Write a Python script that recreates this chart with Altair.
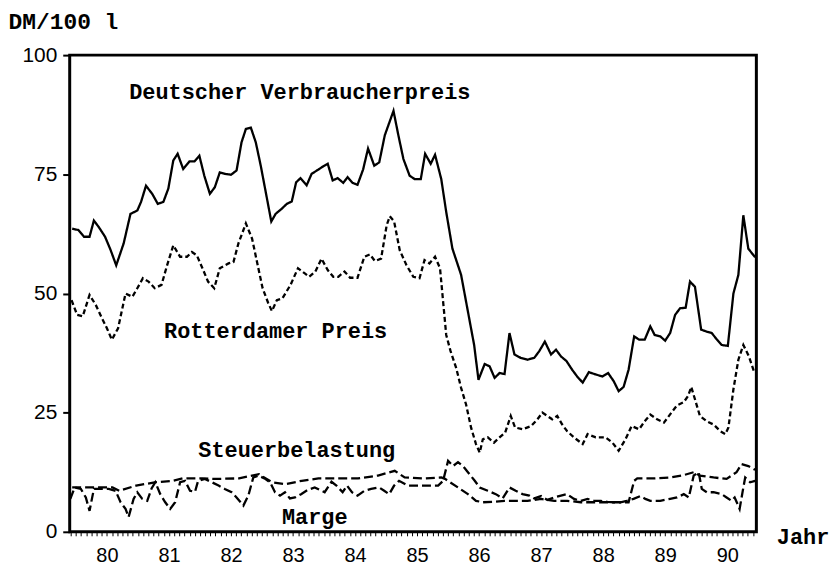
import altair as alt
import pandas as pd

# Deutscher Verbraucherpreis (DM/100 l)
dvp_t = [1979.94,1980.04,1980.13,1980.22,1980.29,1980.37,1980.47,1980.56,1980.65,1980.77,
         1980.88,1980.99,1981.05,1981.13,1981.23,1981.32,1981.41,1981.49,1981.57,1981.64,
         1981.73,1981.83,1981.91,1981.99,1982.07,1982.16,1982.24,1982.32,1982.40,1982.50,
         1982.59,1982.67,1982.74,1982.82,1982.90,1982.98,1983.06,1983.15,1983.22,1983.32,
         1983.40,1983.48,1983.55,1983.62,1983.72,1983.80,1983.91,1983.99,1984.06,1984.14,
         1984.22,1984.31,1984.38,1984.46,1984.54,1984.63,1984.71,1984.81,1984.89,1984.98,
         1985.12,1985.20,1985.28,1985.38,1985.46,1985.56,1985.63,1985.72,1985.79,1985.89,
         1985.97,1986.07,1986.21,1986.32,1986.42,1986.49,1986.59,1986.67,1986.75,1986.83,
         1986.91,1986.99,1987.07,1987.17,1987.28,1987.39,1987.47,1987.56,1987.66,1987.74,
         1987.82,1987.91,1988.00,1988.08,1988.17,1988.27,1988.38,1988.49,1988.58,1988.67,
         1988.75,1988.83,1988.91,1989.00,1989.08,1989.17,1989.26,1989.33,1989.42,1989.50,
         1989.58,1989.66,1989.74,1989.83,1989.90,1989.98,1990.08,1990.17,1990.25,1990.33,
         1990.41,1990.51,1990.60,1990.68,1990.76,1990.84,1990.95]
dvp_v = [63.6,63.3,61.9,61.9,65.3,63.9,61.9,59.1,55.9,60.5,
         66.7,67.4,69.2,72.6,70.9,68.8,69.2,72.0,77.9,79.3,
         76.1,77.7,77.7,78.9,74.7,70.9,72.3,75.4,75.1,74.9,
         75.8,81.7,84.5,84.8,81.7,76.8,71.3,65.1,66.7,67.8,
         68.8,69.3,73.3,74.2,72.7,75.1,76.0,76.7,77.2,73.7,
         74.2,73.2,74.4,73.2,72.8,76.0,80.4,76.8,77.5,83.2,
         88.3,83.1,78.2,74.7,74.0,74.0,79.3,77.2,79.1,74.0,
         67.1,59.4,53.9,46.2,39.2,31.9,35.2,34.7,32.3,33.3,
         33.1,41.7,37.2,36.5,36.1,36.5,37.9,39.9,37.2,38.2,
         36.8,35.8,34.0,32.6,31.3,33.5,33.0,32.6,33.3,31.6,
         29.5,30.4,34.0,41.0,40.3,40.3,43.1,41.3,41.0,40.1,
         41.7,45.5,46.9,47.0,52.5,51.4,42.4,42.0,41.7,40.4,
         39.2,39.0,50.0,53.9,66.4,59.4,57.6]

# Rotterdamer Preis
rot_t = [1979.93,1980.02,1980.11,1980.22,1980.32,1980.42,1980.50,1980.58,1980.68,1980.80,
         1980.91,1980.99,1981.08,1981.17,1981.27,1981.38,1981.47,1981.57,1981.68,1981.79,
         1981.87,1981.95,1982.04,1982.13,1982.23,1982.32,1982.46,1982.54,1982.62,1982.74,
         1982.84,1982.92,1983.01,1983.10,1983.16,1983.24,1983.33,1983.46,1983.58,1983.69,
         1983.76,1983.86,1983.96,1984.06,1984.15,1984.23,1984.33,1984.42,1984.54,1984.65,
         1984.74,1984.82,1984.92,1985.01,1985.06,1985.13,1985.22,1985.33,1985.44,1985.54,
         1985.62,1985.70,1985.79,1985.87,1985.92,1985.97,1986.04,1986.13,1986.21,1986.29,
         1986.37,1986.45,1986.51,1986.56,1986.64,1986.74,1986.83,1986.92,1987.01,1987.08,
         1987.20,1987.34,1987.44,1987.52,1987.60,1987.68,1987.76,1987.84,1987.92,1988.03,
         1988.17,1988.25,1988.38,1988.54,1988.65,1988.75,1988.86,1988.96,1989.08,1989.17,
         1989.26,1989.37,1989.48,1989.60,1989.69,1989.80,1989.87,1989.92,1989.98,1990.06,
         1990.17,1990.28,1990.39,1990.47,1990.52,1990.60,1990.68,1990.76,1990.85,1990.94]
rot_v = [48.6,45.5,45.2,49.7,47.6,44.8,42.7,40.3,42.7,50.0,
         49.3,51.1,53.2,52.5,51.1,51.8,55.9,60.1,57.7,57.7,
         58.7,58.0,55.3,52.5,51.1,55.3,56.3,56.6,60.5,64.7,
         61.5,56.6,51.1,48.0,46.3,48.6,49.0,51.8,55.3,54.2,
         53.5,54.6,57.3,54.9,53.5,53.5,54.6,53.3,53.3,57.7,
         58.2,56.8,57.3,64.3,66.2,65.1,59.1,55.9,53.5,53.2,
         57.0,56.3,57.7,55.3,48.3,41.3,37.9,34.4,30.2,26.7,
         21.9,18.4,16.6,19.4,19.8,18.7,19.8,20.8,24.3,21.9,
         21.5,22.2,23.6,25.0,24.3,23.6,24.3,22.5,21.1,19.8,
         18.4,20.5,19.8,19.8,18.7,17.0,19.4,22.2,21.5,23.2,
         24.6,23.6,22.9,25.0,26.5,27.2,28.5,30.4,27.8,24.3,
         23.2,22.5,21.1,20.5,21.9,29.9,36.1,39.2,36.8,33.3]

# Steuerbelastung
st_t = [1979.94,1980.59,1980.70,1980.97,1981.29,1981.56,1981.72,1982.04,1982.25,1982.63,
        1982.88,1982.95,1983.16,1983.38,1983.64,1983.91,1984.29,1984.55,1984.87,1985.14,
        1985.30,1985.62,1985.89,1985.95,1986.16,1986.32,1986.45,1986.56,1986.75,1986.91,
        1987.28,1987.50,1987.71,1987.92,1988.14,1988.57,1988.91,1989.00,1989.05,1989.32,
        1989.58,1989.80,1989.96,1990.06,1990.28,1990.49,1990.65,1990.73,1990.84,1990.95]
st_v = [9.3,9.3,8.6,9.7,10.4,10.7,11.2,11.2,11.1,11.2,
        11.9,12.1,10.4,10.0,10.7,11.2,11.2,11.2,11.8,12.8,
        11.4,11.2,11.4,11.1,9.3,7.9,6.5,6.2,6.3,6.5,
        6.5,6.9,6.5,6.5,6.2,6.2,6.2,10.7,11.2,11.2,
        11.4,11.9,12.5,11.8,11.4,11.1,12.5,14.2,13.8,13.0]

# Marge
mg_t = [1979.91,1979.98,1980.08,1980.16,1980.22,1980.29,1980.53,1980.64,1980.72,1980.80,
        1980.85,1980.93,1980.99,1981.07,1981.15,1981.22,1981.28,1981.36,1981.44,1981.52,
        1981.60,1981.68,1981.76,1981.84,1981.92,1981.97,1982.08,1982.19,1982.30,1982.40,
        1982.51,1982.59,1982.70,1982.78,1982.86,1982.94,1983.04,1983.13,1983.21,1983.29,
        1983.37,1983.45,1983.53,1983.63,1983.74,1983.85,1983.96,1984.01,1984.12,1984.20,
        1984.30,1984.37,1984.45,1984.54,1984.65,1984.76,1984.89,1984.97,1985.05,1985.13,
        1985.21,1985.35,1985.61,1985.84,1985.92,1986.00,1986.08,1986.16,1986.24,1986.32,
        1986.43,1986.51,1986.64,1986.77,1986.88,1986.99,1987.09,1987.20,1987.31,1987.39,
        1987.50,1987.60,1987.71,1987.82,1987.92,1988.03,1988.14,1988.25,1988.35,1988.46,
        1988.57,1988.67,1988.78,1988.88,1988.99,1989.10,1989.18,1989.26,1989.42,1989.58,
        1989.69,1989.80,1989.88,1989.96,1990.04,1990.09,1990.17,1990.28,1990.41,1990.49,
        1990.57,1990.62,1990.70,1990.76,1990.79,1990.87,1990.95]
mg_v = [6.9,9.3,9.0,7.2,4.4,9.0,9.0,8.6,6.2,4.8,
        3.1,6.9,8.3,6.9,6.5,9.1,10.4,7.9,6.2,4.8,
        6.2,10.4,10.7,8.6,8.4,10.7,11.1,10.4,9.7,9.0,
        8.3,7.2,5.5,7.6,11.4,11.8,11.2,10.4,8.3,7.6,
        8.3,7.0,7.2,7.9,8.8,9.3,8.6,8.3,10.5,9.7,
        8.3,9.7,8.3,7.6,8.6,9.0,9.3,8.6,7.9,9.7,
        10.7,9.7,9.7,9.7,10.7,14.9,13.8,14.6,13.8,12.5,
        10.7,9.3,8.6,7.9,7.0,9.3,8.6,7.9,7.6,7.0,
        7.5,6.7,7.2,7.6,7.9,6.9,6.5,6.9,6.5,6.5,
        6.3,6.2,6.2,6.5,6.9,7.5,6.9,6.5,6.5,6.9,
        7.2,7.9,7.2,11.8,12.5,9.0,8.3,8.3,7.9,7.2,
        6.5,7.2,4.8,9.3,11.4,10.4,10.7]

series_names = ["Deutscher Verbraucherpreis", "Rotterdamer Preis", "Steuerbelastung", "Marge"]

# in-plot labels
lab_text = ["Deutscher Verbraucherpreis", "Rotterdamer Preis", "Steuerbelastung", "Marge"]
lab_t = [1983.61, 1983.22, 1983.56, 1983.85]
lab_v = [90.8, 40.7, 15.7, 1.7]

y_ticks = [0, 25, 50, 75, 100]
month_ticks = [round(1980 + k / 12.0, 4) for k in range(-1, 132)]

frames = []
for name, t, v in zip(series_names, [dvp_t, rot_t, st_t, mg_t], [dvp_v, rot_v, st_v, mg_v]):
    frames.append(pd.DataFrame({"t": t, "v": v, "series": name}))
lines_df = pd.concat(frames, ignore_index=True)
labels_df = pd.DataFrame({"t": lab_t, "v": lab_v, "label": lab_text})

x_scale = alt.Scale(domain=[1979.9, 1990.97], nice=False, zero=False)
y_scale = alt.Scale(domain=[0, 100], nice=False, zero=True)

x_axis = alt.Axis(
    values=month_ticks,
    labelExpr="abs(datum.value - floor(datum.value) - 0.5) < 0.01 ? format(floor(datum.value) % 100, 'd') : ''",
    labelOverlap=False,
    labelFont="Liberation Sans",
    labelFontSize=20,
    labelColor="black",
    labelPadding=10,
    tickColor="black",
    tickSize=4,
    tickWidth=1,
    domain=False,
    grid=False,
    title="Jahr",
    titleFont="Liberation Mono",
    titleFontSize=22,
    titleFontWeight="bold",
    titleColor="black",
    titleAlign="left",
    titleBaseline="alphabetic",
    titleAnchor="start",
    titleX=710,
    titleY=12,
)
y_axis = alt.Axis(
    values=y_ticks,
    labelFont="Liberation Sans",
    labelFontSize=21,
    labelColor="black",
    labelPadding=6,
    tickColor="black",
    tickSize=7,
    tickWidth=2,
    domain=False,
    grid=False,
    title="DM/100 l",
    titleFont="Liberation Mono",
    titleFontSize=23,
    titleFontWeight="bold",
    titleColor="black",
    titleAngle=0,
    titleAlign="left",
    titleBaseline="alphabetic",
    titleAnchor="start",
    titleX=-62,
    titleY=-27,
)

x_enc = alt.X("t:Q", scale=x_scale, axis=x_axis)
y_enc = alt.Y("v:Q", scale=y_scale, axis=y_axis)

lines = alt.Chart(lines_df).mark_line(color="black", strokeWidth=2.3).encode(
    x=x_enc,
    y=y_enc,
    detail="series:N",
    strokeDash=alt.StrokeDash(
        "series:N",
        scale=alt.Scale(domain=series_names, range=[[1, 0], [5, 3], [9, 4], [9, 4]]),
        legend=None,
    ),
)

labels = alt.Chart(labels_df).mark_text(
    font="Liberation Mono", fontSize=22, fontWeight="bold", color="black",
    align="center", baseline="alphabetic",
).encode(x=x_enc, y=y_enc, text="label:N")

chart = alt.layer(lines, labels).properties(
    width=690,
    height=479,
    autosize=alt.AutoSizeParams(type="none"),
    padding={"left": 62, "top": 46, "right": 76, "bottom": 32},
    background="white",
).configure_view(
    stroke="black", strokeWidth=3
)

chart.save("out.html", embed_options={"renderer": "svg", "actions": False})
